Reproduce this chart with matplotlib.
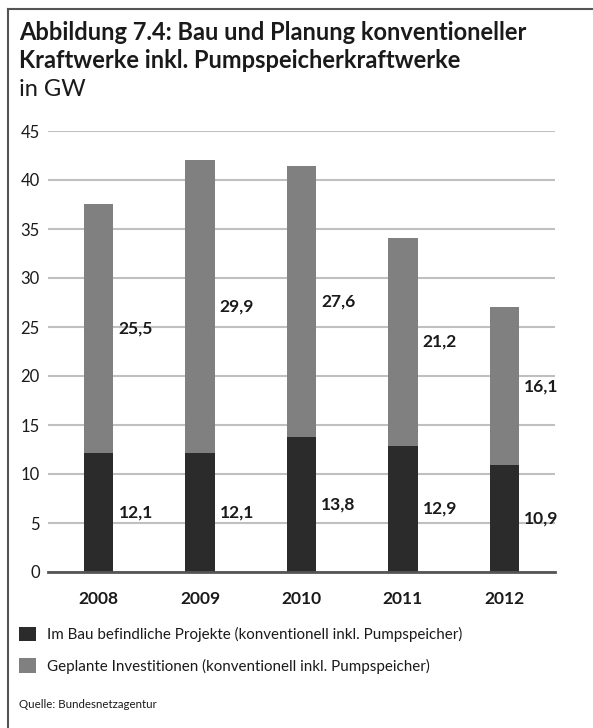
import matplotlib
matplotlib.use("Agg")
import matplotlib.pyplot as plt
from matplotlib.lines import Line2D

# Data (GW)
years = ["2008", "2009", "2010", "2011", "2012"]
im_bau = [12.1, 12.1, 13.8, 12.9, 10.9]
geplant = [25.5, 29.9, 27.6, 21.2, 16.1]
yticks = [0, 5, 10, 15, 20, 25, 30, 35, 40, 45]

legend_labels = [
    "Im Bau befindliche Projekte (konventionell inkl. Pumpspeicher)",
    "Geplante Investitionen (konventionell inkl. Pumpspeicher)",
]

DARK = "#2b2b2b"
GREY = "#808080"
TEXT = "#1a1a1a"
FONT = "Lato"

W, H = 593, 728
fig = plt.figure(figsize=(W / 100, H / 100), dpi=100)
fig.patch.set_facecolor("white")


def fx(px):
    return px / W


def fy(py):
    return 1 - py / H


# Frame: top and left rules
fig.add_artist(Line2D([fx(8), 1.0], [fy(9), fy(9)], color="#555555", lw=1.5))
fig.add_artist(Line2D([fx(8), fx(8)], [fy(9), 0.0], color="#555555", lw=1.5))

# Titles
fig.text(fx(19), fy(33), "Abbildung 7.4: Bau und Planung konventioneller",
         fontsize=17, fontweight="bold", family=FONT, color=TEXT, va="center")
fig.text(fx(19), fy(61), "Kraftwerke inkl. Pumpspeicherkraftwerke",
         fontsize=17, fontweight="bold", family=FONT, color=TEXT, va="center")
fig.text(fx(19), fy(89), "in GW", fontsize=17, family=FONT, color=TEXT, va="center")

ax = fig.add_axes([fx(48), fy(572), fx(555) - fx(48), fy(131) - fy(572)])
x = list(range(len(years)))
width = 0.29
b1 = ax.bar(x, im_bau, width=width, color=DARK, zorder=3)
b2 = ax.bar(x, geplant, width=width, bottom=im_bau, color=GREY, zorder=3)

ax.set_xlim(-0.5, len(years) - 0.5)
ax.set_ylim(0, 45)
ax.set_yticks(yticks)
ax.set_yticklabels([str(t) for t in yticks], fontsize=12, family=FONT, color=TEXT)
ax.set_xticks(x)
ax.set_xticklabels(years, fontsize=12.5, fontweight="bold", family=FONT, color=TEXT)
ax.tick_params(axis="both", length=0)
ax.tick_params(axis="y", pad=6)
ax.tick_params(axis="x", pad=14)
for s in ["top", "right", "left"]:
    ax.spines[s].set_visible(False)
ax.spines["bottom"].set_color("#555555")
ax.spines["bottom"].set_linewidth(2)
ax.spines["bottom"].set_zorder(4)
ax.yaxis.grid(True, color="#c0c0c0", lw=1.5, zorder=0)
ax.set_axisbelow(True)

# Value labels to the right of each segment
for i in x:
    xt = i + width / 2 + 0.05
    ax.text(xt, im_bau[i] / 2, f"{im_bau[i]:.1f}".replace(".", ","),
            fontsize=12.5, fontweight="bold", family=FONT, color=TEXT,
            ha="left", va="center")
    ax.text(xt, im_bau[i] + geplant[i] / 2, f"{geplant[i]:.1f}".replace(".", ","),
            fontsize=12.5, fontweight="bold", family=FONT, color=TEXT,
            ha="left", va="center")

fig.legend([b1, b2], legend_labels, loc="upper left",
           bbox_to_anchor=(fx(14), fy(622)), frameon=False,
           prop={"family": FONT, "size": 10.9}, labelcolor=TEXT,
           handlelength=1.13, handleheight=1.13, handletextpad=0.72,
           labelspacing=1.05, borderaxespad=0, borderpad=0.3)

fig.text(fx(19), fy(705), "Quelle: Bundesnetzagentur", fontsize=8.3,
         family=FONT, color=TEXT, va="center")

fig.savefig("out.png", dpi=100, facecolor="white")
